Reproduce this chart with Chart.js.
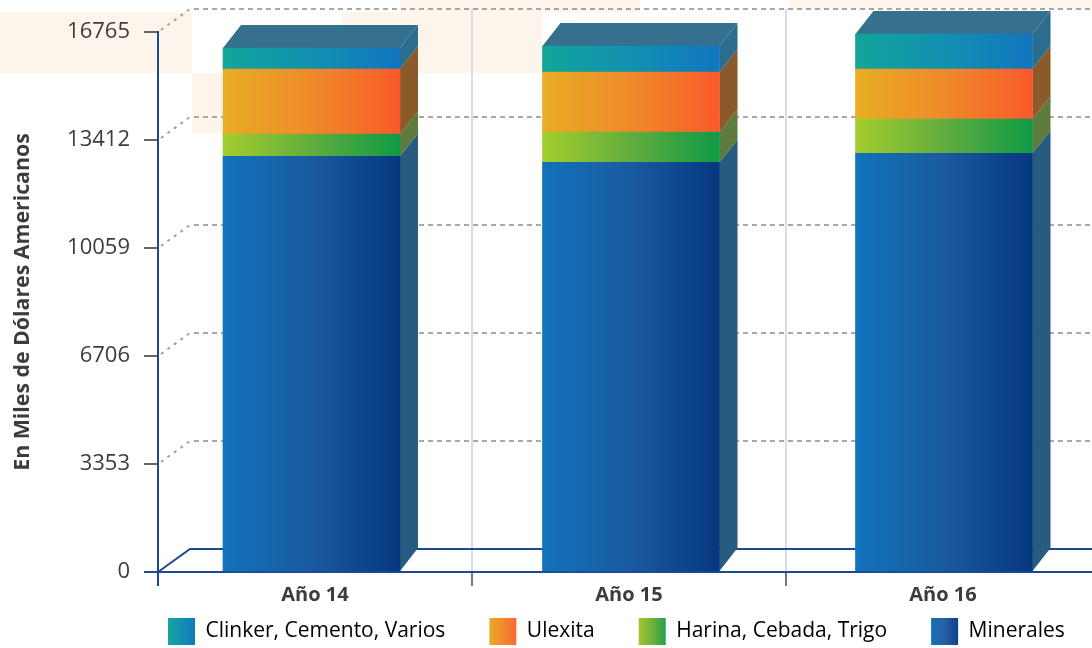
<!DOCTYPE html>
<html>
<head>
<meta charset="utf-8">
<script src="https://cdn.jsdelivr.net/npm/chart.js@4"></script>
<style>
  html, body { margin: 0; padding: 0; background: #fff; overflow: hidden; }
  #wrap { position: relative; width: 1092px; height: 648px; overflow: hidden; }
  #wrap canvas { position: absolute; left: 0; top: 0; }
  .tint { position: absolute; background: #fdf5ec; }
</style>
</head>
<body>
<div id="wrap">
  <!-- manchas claras del fondo -->
  <div class="tint" style="left:0;top:12px;width:192px;height:61px"></div>
  <div class="tint" style="left:192px;top:73px;width:30px;height:60px"></div>
  <div class="tint" style="left:342px;top:12px;width:200px;height:61px"></div>
  <div class="tint" style="left:400px;top:0;width:240px;height:12px"></div>
  <div class="tint" style="left:790px;top:0;width:302px;height:9px"></div>
  <canvas id="myChart" width="1100" height="686"></canvas>
</div>
<script>
const categories = ['Año 14', 'Año 15', 'Año 16'];
const yTicks = [0, 3353, 6706, 10059, 13412, 16765];

// valores, de abajo hacia arriba
const minerales = [12908, 12722, 13002];
const harina = [684, 933, 1058];
const ulexita = [2022, 1866, 1555];
const clinker = [653, 809, 1089];

// desplazamiento de cada barra respecto al centro de su categoría
const barShift = [-3.5, 2, 1];
const barWidth = 177;
const depthX = 18;
const depthY = 23;

const FONT = '"Open Sans", "Noto Sans", sans-serif';
const NAVY = '#1d4a8f';
const TEXT = '#3c3c3c';

const canvas = document.getElementById('myChart');
const ctx2d = canvas.getContext('2d');

function hGradient(x0, x1, stops) {
  const g = ctx2d.createLinearGradient(x0, 0, x1, 0);
  stops.forEach((c, i) => g.addColorStop(i / (stops.length - 1), c));
  return g;
}

// degradado horizontal por barra
function barFill(stops) {
  return (ctx) => {
    const sx = ctx.chart.scales.x;
    if (!sx || ctx.dataIndex === undefined) return stops[0];
    const c = sx.getPixelForValue(ctx.dataIndex) + barShift[ctx.dataIndex];
    return hGradient(c - barWidth / 2, c + barWidth / 2, stops);
  };
}

const seriesList = [
  { label: 'Minerales', data: minerales, stops: ['#1272ba', '#1a5aa0', '#06377f'], side: '#285b80', swatch: [931.5, ['#1272ba', '#2a5f9f', '#0a3f8f']] },
  { label: 'Harina, Cebada, Trigo', data: harina, stops: ['#a4cd2e', '#62ad3e', '#0f9a45'], side: '#5c7b3c', swatch: [639, ['#a4c52e', '#70b03a', '#20a048']] },
  { label: 'Ulexita', data: ulexita, stops: ['#e8ad25', '#ee8a2a', '#f95a2a'], side: '#8a5a2a', swatch: [489.5, ['#e9a825', '#f08a2c', '#fb6a35']] },
  { label: 'Clinker, Cemento, Varios', data: clinker, stops: ['#12a59a', '#1290b0', '#1276bf'], side: '#2c6c8c', swatch: [168, ['#14a698', '#1290b0', '#1278bd']] }
];

// pared del fondo: líneas punteadas y base
const backWall = {
  id: 'backWall',
  beforeDatasetsDraw(chart) {
    const { ctx, scales: { y }, chartArea: a } = chart;
    ctx.save();
    // las divisiones verticales suben hasta la pared
    ctx.strokeStyle = '#dcdcea';
    ctx.lineWidth = 2;
    [1, 2].forEach((i) => {
      const px = a.left + i * (a.right - a.left) / categories.length;
      ctx.beginPath();
      ctx.moveTo(px, a.top - depthY);
      ctx.lineTo(px, a.top);
      ctx.stroke();
    });
    yTicks.slice(1).forEach((v) => {
      const py = y.getPixelForValue(v);
      ctx.strokeStyle = '#a2a2a2';
      ctx.lineWidth = 2;
      ctx.setLineDash([3, 5]);
      ctx.beginPath();
      ctx.moveTo(a.left + 3, py - 2);
      ctx.lineTo(a.left + 32, py - depthY);
      ctx.stroke();
      ctx.strokeStyle = '#8c8c8c';
      ctx.lineWidth = 1.5;
      ctx.setLineDash([5, 4]);
      ctx.beginPath();
      ctx.moveTo(a.left + 36, py - depthY);
      ctx.lineTo(a.right, py - depthY);
      ctx.stroke();
    });
    ctx.setLineDash([]);
    ctx.strokeStyle = NAVY;
    ctx.lineWidth = 2;
    const p0 = y.getPixelForValue(0);
    ctx.beginPath();
    ctx.moveTo(a.left, p0);
    ctx.lineTo(a.left + 32, p0 - depthY);
    ctx.lineTo(a.right, p0 - depthY);
    ctx.stroke();
    ctx.restore();
  }
};

// caras lateral y superior de cada barra
const bar3d = {
  id: 'bar3d',
  beforeDatasetsDraw(chart) {
    const { ctx } = chart;
    ctx.save();
    chart.data.datasets.forEach((ds, i) => {
      chart.getDatasetMeta(i).data.forEach((bar) => {
        const right = bar.x + barWidth / 2;
        ctx.fillStyle = seriesList[i].side;
        ctx.beginPath();
        ctx.moveTo(right, bar.y);
        ctx.lineTo(right + depthX, bar.y - depthY);
        ctx.lineTo(right + depthX, bar.base - depthY);
        ctx.lineTo(right, bar.base);
        ctx.closePath();
        ctx.fill();
      });
    });
    const last = chart.data.datasets.length - 1;
    chart.getDatasetMeta(last).data.forEach((bar) => {
      const left = bar.x - barWidth / 2;
      const right = bar.x + barWidth / 2;
      ctx.fillStyle = '#35708e';
      ctx.beginPath();
      ctx.moveTo(left, bar.y);
      ctx.lineTo(left + depthX, bar.y - depthY);
      ctx.lineTo(right + depthX, bar.y - depthY);
      ctx.lineTo(right, bar.y);
      ctx.closePath();
      ctx.fill();
    });
    ctx.restore();
  }
};

// corre las barras y coloca la leyenda donde está en el original
const placement = {
  id: 'placement',
  afterDatasetsUpdate(chart) {
    chart.data.datasets.forEach((ds, i) => {
      chart.getDatasetMeta(i).data.forEach((bar, j) => { bar.x += barShift[j]; });
    });
  },
  afterLayout(chart) {
    const legend = chart.legend;
    // una sola fila: el ancho del layout no alcanza para los cuatro items
    legend.maxWidth = chart.width;
    legend.fit();
    legend.left = 168 - legend.options.labels.padding;
    legend.right = legend.left + legend.width;
    legend.top = 618 - legend.options.labels.padding;
  }
};

new Chart(canvas, {
  type: 'bar',
  data: {
    labels: categories,
    datasets: seriesList.map((s) => ({
      label: s.label,
      data: s.data,
      backgroundColor: barFill(s.stops),
      borderWidth: 0,
      barThickness: barWidth,
      stack: 'total'
    }))
  },
  options: {
    responsive: false,
    animation: false,
    layout: { padding: { top: 32, left: 0, right: 0, bottom: 0 } },
    scales: {
      x: {
        stacked: true,
        grid: {
          display: true,
          color: '#dcdcea',
          lineWidth: 2,
          tickColor: (c) => (c.index === 0 ? NAVY : '#777'),
          tickLength: 14,
          offset: true
        },
        border: { color: NAVY, width: 2 },
        ticks: { color: TEXT, font: { family: FONT, size: 20, weight: 'bold' }, padding: -3, maxRotation: 0 },
        afterFit: (scale) => { scale.height = 33; }
      },
      y: {
        stacked: true,
        min: 0,
        max: 16765,
        afterBuildTicks: (scale) => { scale.ticks = yTicks.map((v) => ({ value: v })); },
        grid: {
          drawOnChartArea: false,
          tickColor: (c) => (c.tick.value === 0 ? NAVY : '#666'),
          tickLength: 14,
          lineWidth: 2
        },
        border: { color: NAVY, width: 2 },
        ticks: { color: TEXT, font: { family: FONT, size: 22 }, padding: 14, callback: (v) => String(v) },
        title: {
          display: true,
          text: 'En Miles de Dólares Americanos',
          color: TEXT,
          font: { family: FONT, size: 21.3, weight: 'bold' },
          padding: { top: 10, bottom: 0 }
        },
        afterFit: (scale) => { scale.width = 158; }
      }
    },
    plugins: {
      tooltip: { enabled: false },
      legend: {
        position: 'bottom',
        align: 'start',
        reverse: true,
        labels: {
          boxWidth: 27,
          boxHeight: 27,
          padding: 44,
          color: '#2c2c2c',
          font: { family: FONT, size: 21 },
          generateLabels: () => seriesList.map((s, i) => ({
            text: s.label,
            fillStyle: hGradient(s.swatch[0], s.swatch[0] + 27, s.swatch[1]),
            strokeStyle: 'transparent',
            lineWidth: 0,
            datasetIndex: i
          }))
        }
      }
    }
  },
  plugins: [backWall, bar3d, placement]
});
</script>
</body>
</html>
